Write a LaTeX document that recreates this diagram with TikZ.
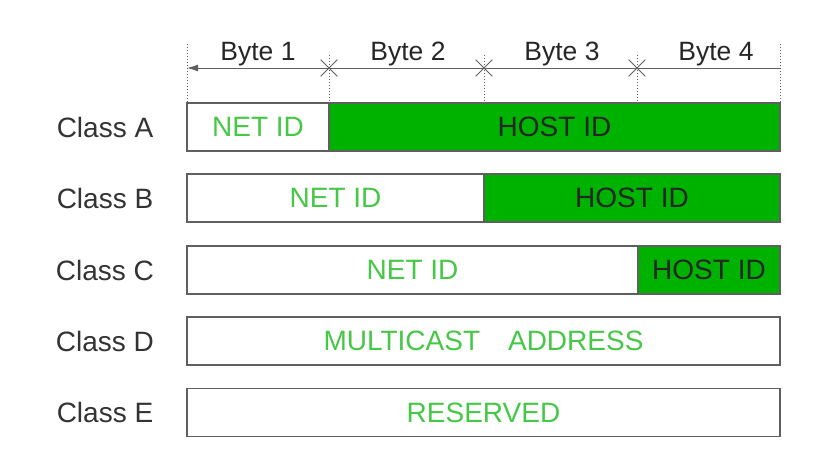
\documentclass[tikz,border=0pt]{standalone}
\usepackage{fontspec}
\setmainfont{Liberation Sans}
\usepackage{tikz}
\usetikzlibrary{shapes.misc,positioning,calc}
\usetikzlibrary{arrows.meta}
\definecolor{verdepieno}{RGB}{0,178,0}
\definecolor{verdetesto}{RGB}{70,200,70}
\definecolor{bordo}{RGB}{95,95,95}
\tikzstyle{campo} = [rectangle, draw=bordo, line width=1.2pt, minimum height=48pt,
inner sep=0pt, outer sep=0pt, text centered, text=verdetesto, font=\fontsize{28}{31}\selectfont]
\tikzstyle{host} = [campo, fill=verdepieno, text=black!85]
\tikzstyle{classe} = [font=\fontsize{28}{31}\selectfont, text=black!80]
\tikzstyle{byte} = [font=\fontsize{26.5}{29}\selectfont, text=black!85, anchor=base]
\tikzstyle{croce} = [cross out, draw=bordo, minimum size=16pt, inner sep=0pt, line width=0.8pt]
\tikzstyle{tratto} = [dotted, draw=bordo, line width=1pt]
\tikzstyle{arrow} = [line width=1pt, draw=bordo, -{Latex[length=11pt,width=7pt]}]

\begin{document}
\begin{tikzpicture}[x=1pt,y=-1pt]
						\useasboundingbox (0,0) rectangle (817,466);
						% righe
						\node (lA) at (105,127) [classe] {Class A};
						\node (aNet) at (258,127) [campo, minimum width=142pt] {NET ID};
						\node (aHost) [host, minimum width=451pt, right=0pt of aNet] {HOST ID};
						\node (lB) at (105,198) [classe] {Class B};
						\node (bNet) at (335.5,198) [campo, minimum width=297pt] {NET ID};
						\node (bHost) [host, minimum width=296pt, right=0pt of bNet] {HOST ID};
						\node (lC) at (105,270) [classe] {Class C};
						\node (cNet) at (412.5,270) [campo, minimum width=451pt] {NET ID};
						\node (cHost) [host, minimum width=142pt, right=0pt of cNet] {HOST ID};
						\node (lD) at (105,341) [classe] {Class D};
						\node (dAll) at (483.5,341) [campo, minimum width=593pt] {MULTICAST\quad ADDRESS};
						\node (lE) at (105,412.5) [classe] {Class E};
						\node (eAll) at (483.5,412.5) [campo, minimum width=593pt] {RESERVED};
						% byte
						\node (b1) at (258,60) [byte] {Byte 1};
						\node (b2) at (408,60) [byte] {Byte 2};
						\node (b3) at (562,60) [byte] {Byte 3};
						\node (b4) at (716,60) [byte] {Byte 4};
						\coordinate (t0) at (187,44);
						\coordinate (t1) at (329,55);
						\coordinate (t2) at (484,55);
						\coordinate (t3) at (637,55);
						\coordinate (t4) at (780,44);
						\draw[tratto] (t0) -- (aNet.north west);
						\draw[tratto] (t1) -- (aNet.north east);
						\draw[tratto] (t2) -- (t2 |- aHost.north);
						\draw[tratto] (t3) -- (t3 |- aHost.north);
						\draw[tratto] (t4) -- (aHost.north east);
						\draw[arrow] (t4 |- 0,68) -- (t0 |- 0,68);
						\node (x1) at (329,68) [croce] {};
						\node (x2) at (484,68) [croce] {};
						\node (x3) at (637,68) [croce] {};
					\end{tikzpicture}
\end{document}
